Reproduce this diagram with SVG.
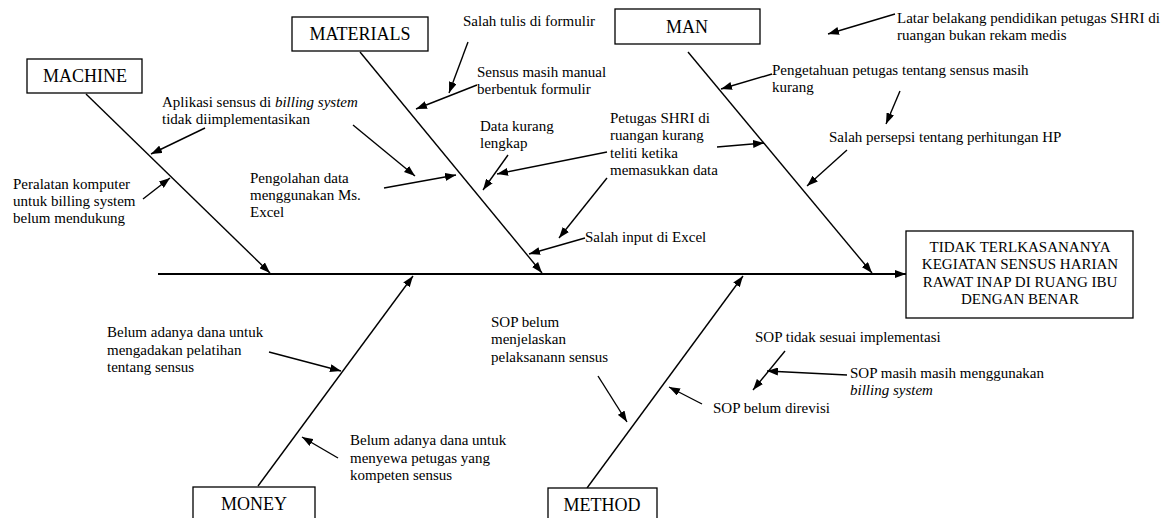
<svg xmlns="http://www.w3.org/2000/svg" width="1166" height="518" viewBox="0 0 1166 518">
<style>
.t{font-family:"Liberation Serif","Times New Roman",serif;font-size:15px;fill:#000}
.h{font-family:"Liberation Serif","Times New Roman",serif;font-size:18px;fill:#000;text-anchor:middle}
.e{font-family:"Liberation Serif","Times New Roman",serif;font-size:15px;fill:#000;text-anchor:middle}
.box{fill:#fff;stroke:#000;stroke-width:1.3}
.ln{stroke:#000;stroke-width:1.4;fill:none}
.ar{stroke:#000;stroke-width:1.4;fill:none;marker-end:url(#ah)}
.sp{stroke:#000;stroke-width:2;fill:none;marker-end:url(#ah)}
</style>
<defs>
<marker id="ah" markerUnits="userSpaceOnUse" markerWidth="11" markerHeight="8" refX="11" refY="4" orient="auto">
<path d="M0,0 L11,4 L0,8 z" fill="#000"/>
</marker>
</defs>
<rect width="1166" height="518" fill="#fff"/>

<g id="connectors">
<line class="sp" x1="158" y1="274" x2="906" y2="274"/>
<line class="ar" x1="86" y1="94" x2="270" y2="273"/>
<line class="ar" x1="360" y1="52" x2="542" y2="273"/>
<line class="ar" x1="688" y1="52" x2="872" y2="273"/>
<line class="ar" x1="258" y1="486" x2="413" y2="276"/>
<line class="ar" x1="587" y1="488" x2="743" y2="276"/>

<line class="ar" x1="205" y1="128" x2="151" y2="154"/>
<line class="ar" x1="143" y1="199" x2="170" y2="178"/>
<line class="ar" x1="468" y1="42" x2="449" y2="93"/>
<line class="ar" x1="477" y1="85" x2="416" y2="109"/>
<line class="ar" x1="353" y1="125" x2="415" y2="176"/>
<line class="ar" x1="384" y1="188" x2="456" y2="175"/>
<line class="ar" x1="508" y1="155" x2="483" y2="190"/>
<line class="ar" x1="607" y1="152" x2="497" y2="174"/>
<line class="ar" x1="717" y1="147" x2="764" y2="143"/>
<line class="ar" x1="607" y1="178" x2="559" y2="238"/>
<line class="ar" x1="585" y1="238" x2="529" y2="254"/>
<line class="ar" x1="895" y1="14" x2="828" y2="34"/>
<line class="ar" x1="772" y1="74" x2="721" y2="89"/>
<line class="ar" x1="900" y1="91" x2="886" y2="124"/>
<line class="ar" x1="847" y1="150" x2="807" y2="186"/>
<line class="ar" x1="269" y1="352" x2="341" y2="371"/>
<line class="ar" x1="338" y1="458" x2="302" y2="437"/>
<line class="ar" x1="598" y1="376" x2="627" y2="422"/>
<line class="ar" x1="702" y1="404" x2="669" y2="387"/>
<line class="ar" x1="785" y1="351" x2="753" y2="390"/>
<line class="ar" x1="847" y1="375" x2="767" y2="371"/>
</g>

<g id="machine">
<rect class="box" x="27" y="59" width="115" height="34"/>
<text class="h" x="85" y="82">MACHINE</text>
</g>
<g id="materials">
<rect class="box" x="292" y="17" width="136" height="34"/>
<text class="h" x="360" y="40">MATERIALS</text>
</g>
<g id="man">
<rect class="box" x="615" y="9" width="145" height="35"/>
<text class="h" x="687" y="33">MAN</text>
</g>
<g id="money">
<rect class="box" x="193" y="487" width="122" height="40"/>
<text class="h" x="254" y="510">MONEY</text>
</g>
<g id="method">
<rect class="box" x="548" y="488" width="109" height="40"/>
<text class="h" x="602" y="511">METHOD</text>
</g>
<g id="effect">
<rect class="box" x="906" y="231" width="227" height="87"/>
<text class="e" x="1020" y="252">TIDAK TERLKASANANYA</text>
<text class="e" x="1020" y="269">KEGIATAN SENSUS HARIAN</text>
<text class="e" x="1020" y="287">RAWAT INAP DI RUANG IBU</text>
<text class="e" x="1020" y="304">DENGAN BENAR</text>
</g>

<g id="labels">
<text class="t" x="162" y="107">Aplikasi sensus di <tspan font-style="italic">billing system</tspan></text>
<text class="t" x="162" y="124">tidak diimplementasikan</text>
<text class="t" x="13" y="189">Peralatan komputer</text>
<text class="t" x="13" y="206">untuk billing system</text>
<text class="t" x="13" y="223">belum mendukung</text>
<text class="t" x="463" y="26">Salah tulis di formulir</text>
<text class="t" x="477" y="77">Sensus masih manual</text>
<text class="t" x="477" y="94">berbentuk formulir</text>
<text class="t" x="250" y="183">Pengolahan data</text>
<text class="t" x="250" y="200">menggunakan Ms.</text>
<text class="t" x="250" y="217">Excel</text>
<text class="t" x="480" y="131">Data kurang</text>
<text class="t" x="480" y="148">lengkap</text>
<text class="t" x="610" y="123">Petugas SHRI di</text>
<text class="t" x="610" y="140">ruangan kurang</text>
<text class="t" x="610" y="158">teliti ketika</text>
<text class="t" x="610" y="175">memasukkan data</text>
<text class="t" x="585" y="242">Salah input di Excel</text>
<text class="t" x="897" y="23">Latar belakang pendidikan petugas SHRI di</text>
<text class="t" x="897" y="40">ruangan bukan rekam medis</text>
<text class="t" x="772" y="75">Pengetahuan petugas tentang sensus masih</text>
<text class="t" x="772" y="92">kurang</text>
<text class="t" x="829" y="142">Salah persepsi tentang perhitungan HP</text>
<text class="t" x="107" y="337">Belum adanya dana untuk</text>
<text class="t" x="107" y="355">mengadakan pelatihan</text>
<text class="t" x="107" y="372">tentang sensus</text>
<text class="t" x="350" y="445">Belum adanya dana untuk</text>
<text class="t" x="350" y="463">menyewa petugas yang</text>
<text class="t" x="350" y="480">kompeten sensus</text>
<text class="t" x="491" y="327">SOP belum</text>
<text class="t" x="491" y="344">menjelaskan</text>
<text class="t" x="491" y="362">pelaksanann sensus</text>
<text class="t" x="713" y="413">SOP belum direvisi</text>
<text class="t" x="755" y="342">SOP tidak sesuai implementasi</text>
<text class="t" x="850" y="378">SOP masih masih menggunakan</text>
<text class="t" x="850" y="395" font-style="italic">billing system</text>
</g>
</svg>
